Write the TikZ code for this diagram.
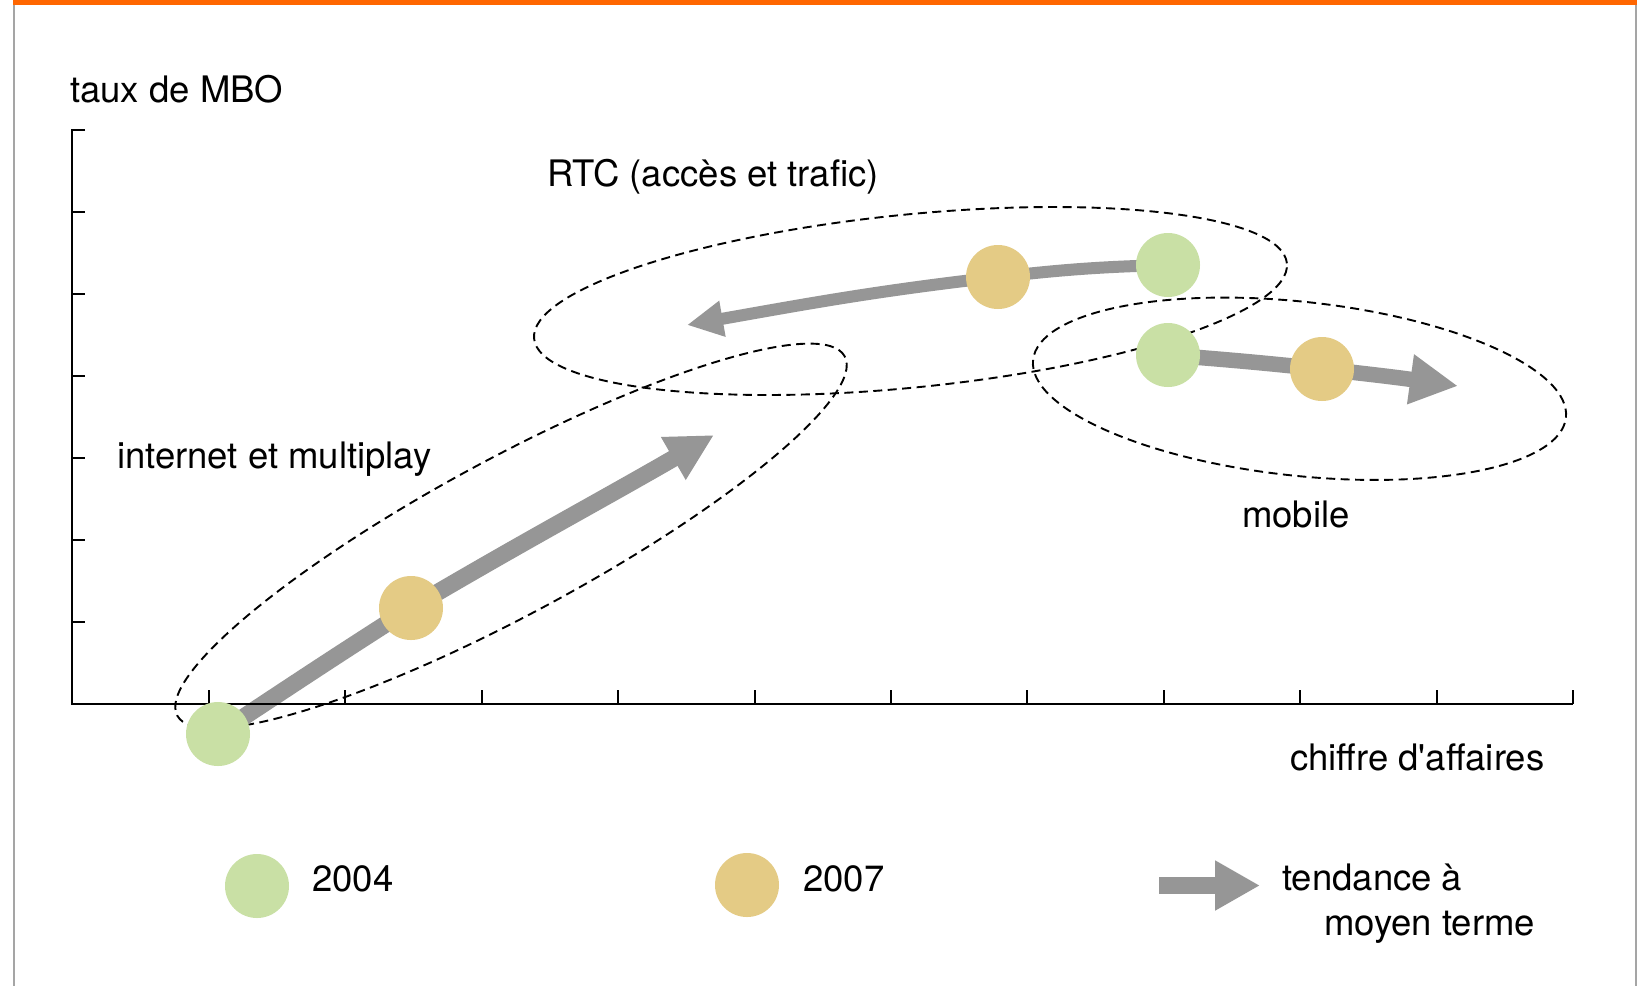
\documentclass[tikz,border=0pt]{standalone}
\usepackage{fontspec}
\setmainfont{TeX Gyre Heros}[Ligatures=TeXOff]
\usetikzlibrary{arrows.meta}
\definecolor{frameor}{RGB}{255,102,0}
\definecolor{framegr}{RGB}{165,165,165}
\definecolor{cfour}{RGB}{201,224,165}
\definecolor{cseven}{RGB}{228,203,133}
\definecolor{arrgray}{RGB}{150,150,150}
\pgfdeclarelayer{bg}
\pgfsetlayers{bg,main}
\begin{document}
\begin{tikzpicture}[x=1pt,y=1pt,
  dotfour/.style={circle,fill=cfour,minimum size=64pt,inner sep=0pt},
  dotseven/.style={circle,fill=cseven,minimum size=64pt,inner sep=0pt},
  lbl/.style={anchor=base west,inner sep=0pt,font=\fontsize{36.5}{40}\selectfont},
  grp/.style={draw=black,line width=1.9pt,dash pattern=on 9pt off 5.5pt},
  axisline/.style={line width=2pt,black},
  trend/.style={draw=arrgray,line width=#1}]
\useasboundingbox (0,0) rectangle (1640,-986);
% frame
\fill[framegr] (13,-2) rectangle (15,-986);
\fill[framegr] (1635,-2) rectangle (1637,-986);
\fill[frameor] (13,0) rectangle (1637,-4.7);
% axes
\draw[axisline] (85,-130) -- (72,-130) -- (72,-704) -- (1573,-704);
\foreach \yy in {212,294,376,458,540,622} \draw[axisline] (72,-\yy) -- (85,-\yy);
\foreach \k in {0,...,10} \draw[axisline] ({209+136.4*\k},-704) -- ({209+136.4*\k},-690);
% points
\node[dotfour] (i04) at (218,-734) {};
\node[dotseven] (i07) at (411,-608) {};
\coordinate (itip) at (714,-435);
\node[dotseven] (r07) at (998,-277) {};
\node[dotfour] (r04) at (1168,-265) {};
\coordinate (rtip) at (687,-325);
\node[dotfour] (m04) at (1168,-355) {};
\node[dotseven] (m07) at (1322,-369) {};
\coordinate (mtip) at (1458,-386);
% legend
\node[dotfour] (l04) at (257,-886) {};
\node[dotseven] (l07) at (747,-885) {};
\coordinate (lstart) at (1159,-885.5);
\coordinate (ltip) at (1260,-885.5);
% labels
\node[lbl] (ylab) at (70,-102) {taux de MBO};
\node[lbl] (xlab) at (1290,-770) {chiffre d'affaires};
\node[lbl] (rtc) at (547,-186) {RTC (accès et trafic)};
\node[lbl] (inet) at (117,-468) {internet et multiplay};
\node[lbl] (mob) at (1242,-527) {mobile};
\node[lbl] (t04) at (312,-891) {2004};
\node[lbl] (t07) at (803,-891) {2007};
\node[lbl] (tendA) at (1282,-890) {tendance à};
\node[lbl] (tendB) at (1324,-935) {moyen terme};
\begin{pgfonlayer}{bg}
\fill[white] (0,0) rectangle (1640,-986);
\draw[grp, rotate around={28.3:(511,-536)}] (511,-536) ellipse [x radius=379pt, y radius=78pt];
\draw[grp, rotate around={5.72:(910.5,-301)}] (910.5,-301) ellipse [x radius=378.3pt, y radius=86.5pt];
\draw[grp, rotate around={-6.17:(1299.5,-388.75)}] (1299.5,-388.75) ellipse [x radius=268pt, y radius=87pt];
\draw[trend=17pt, -{Triangle[length=47pt,width=46pt]}] (i04.center) to[out=33.5,in=212.5] (i07.center) to[out=30.5,in=210] (itip);
\draw[trend=12pt, -{Triangle[length=36pt,width=34pt]}] (r04.center) to[out=181.5,in=6.5] (r07.center) to[out=186.5,in=10] (rtip);
\draw[trend=15.5pt, -{Triangle[length=48pt,width=47pt]}] (m04.center) to[out=-4.5,in=174] (m07.center) to[out=-6,in=172] (mtip);
\draw[trend=17pt, -{Triangle[length=45pt,width=47pt]}] (lstart) -- (ltip);
\end{pgfonlayer}
\end{tikzpicture}
\end{document}
